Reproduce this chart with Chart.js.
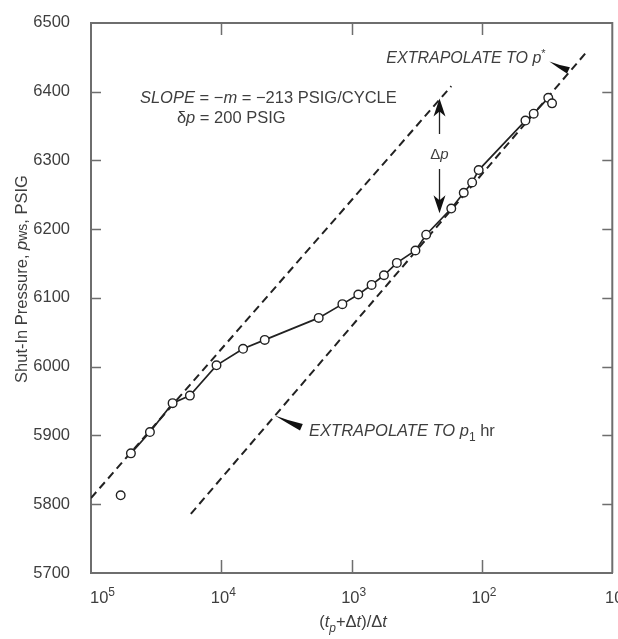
<!DOCTYPE html>
<html>
<head>
<meta charset="utf-8">
<script src="https://cdn.jsdelivr.net/npm/chart.js@4.4.0/dist/chart.umd.min.js"></script>
<style>
  html, body { margin: 0; padding: 0; background: #fff; }
  #wrap { width: 618px; height: 639px; }
</style>
</head>
<body>
<div id="wrap"><canvas id="chart" width="618" height="639"></canvas></div>
<script>
// Horner buildup plot, (tp+dt)/dt on a reversed log axis
const hornerTime = [49400, 35300, 23650, 17420, 10890, 6810, 4645, 1790, 1178, 889, 703, 565, 450, 324, 268, 172, 138, 119, 106, 46.4, 40.1, 31, 29];
const shutInPressure = [5874, 5905, 5947, 5958, 6002, 6026, 6039, 6071, 6091, 6105, 6119, 6133, 6151, 6169, 6192, 6230, 6253, 6268, 6286, 6358, 6368, 6391, 6383];

// first reading, off the curve
const outlierTime = [59200];
const outlierPressure = [5813];

// straight-line extrapolations
const earlyLineTime = [100000, 172];
const earlyLinePressure = [5809, 6408];
const lateLineTime = [17140, 15.7];
const lateLinePressure = [5786, 6458];

// delta p arrow (time, bottom, top)
const deltaPTime = 212;
const deltaPRange = [6223, 6390];

const xTicks = [100000, 10000, 1000, 100, 10];
const xTickExp = ['5', '4', '3', '2', ''];
const yMin = 5700, yMax = 6500, yStep = 100;

const FONT = '"Liberation Sans", Arial, Helvetica, sans-serif';
const TEXT = '#3e3e3e';
const INK = '#222';
const AXIS = '#6e6e6e';

const toPoints = (xs, ys) => xs.map((x, i) => ({ x: x, y: ys[i] }));

function richText(ctx, parts, x, y, align, size) {
    const small = (p) => p.sub || p.sup || p.small;
    const fontOf = (p) => `${p.i ? 'italic ' : ''}${small(p) ? Math.round(size * (p.small ? 0.85 : 0.7)) : size}px ${FONT}`;
    let w = 0;
    parts.forEach(p => { ctx.font = fontOf(p); w += ctx.measureText(p.t).width; });
    let cx = align === 'center' ? x - w / 2 : (align === 'right' ? x - w : x);
    ctx.textAlign = 'left';
    ctx.textBaseline = 'alphabetic';
    parts.forEach(p => {
        ctx.font = fontOf(p);
        const dy = p.sub ? size * 0.28 : (p.sup ? -size * 0.42 : 0);
        ctx.fillText(p.t, cx, y + dy);
        cx += ctx.measureText(p.t).width;
    });
}

function arrowHead(ctx, x, tipY, dir) {
    // dir = -1 : points up, 1 : points down
    ctx.beginPath();
    ctx.moveTo(x, tipY);
    ctx.lineTo(x + 6, tipY - dir * 18);
    ctx.lineTo(x, tipY - dir * 13);
    ctx.lineTo(x - 6, tipY - dir * 18);
    ctx.closePath();
    ctx.fill();
}

function wedge(ctx, thin, thick, width) {
    const dx = thick[0] - thin[0], dy = thick[1] - thin[1];
    const len = Math.hypot(dx, dy);
    const nx = -dy / len * width / 2, ny = dx / len * width / 2;
    ctx.beginPath();
    ctx.moveTo(thin[0], thin[1]);
    ctx.quadraticCurveTo(thin[0] + dx * 0.5 + nx * 0.6, thin[1] + dy * 0.5 + ny * 0.6, thick[0] + nx, thick[1] + ny);
    ctx.lineTo(thick[0] - nx, thick[1] - ny);
    ctx.quadraticCurveTo(thin[0] + dx * 0.5 - nx * 0.2, thin[1] + dy * 0.5 - ny * 0.2, thin[0], thin[1]);
    ctx.closePath();
    ctx.fill();
}

const hornerDecor = {
    id: 'hornerDecor',
    afterDraw: (chart) => {
        const { ctx, chartArea, scales } = chart;
        const { left, right, top, bottom } = chartArea;
        const px = v => scales.x.getPixelForValue(v);
        const py = v => scales.y.getPixelForValue(v);
        ctx.save();

        // frame top + right
        ctx.strokeStyle = AXIS;
        ctx.lineWidth = 2;
        ctx.beginPath();
        ctx.moveTo(left, top);
        ctx.lineTo(right, top);
        ctx.lineTo(right, bottom);
        ctx.stroke();

        // inward tick marks
        ctx.lineWidth = 1.5;
        ctx.beginPath();
        for (let v = yMin + yStep; v < yMax; v += yStep) {
            const y = Math.round(py(v)) + 0.5;
            ctx.moveTo(left, y); ctx.lineTo(left + 10, y);
            ctx.moveTo(right, y); ctx.lineTo(right - 10, y);
        }
        xTicks.slice(1, -1).forEach(v => {
            const x = Math.round(px(v)) + 0.5;
            ctx.moveTo(x, bottom); ctx.lineTo(x, bottom - 13);
            ctx.moveTo(x, top); ctx.lineTo(x, top + 12);
        });
        ctx.stroke();

        // x tick labels, 10^n
        ctx.fillStyle = TEXT;
        xTicks.forEach((v, i) => {
            const parts = [{ t: '10' }];
            if (xTickExp[i]) parts.push({ t: xTickExp[i], sup: true });
            if (i === 0) richText(ctx, parts, px(v) - 1, bottom + 30, 'left', 16.5);
            else richText(ctx, parts, px(v) + 2, bottom + 30, 'center', 16.5);
        });

        // axis titles
        richText(ctx, [{ t: '(' }, { t: 't', i: true }, { t: 'p', i: true, sub: true }, { t: '+Δ' }, { t: 't', i: true }, { t: ')/Δ' }, { t: 't', i: true }], 353, 627, 'center', 16.5);
        ctx.save();
        ctx.translate(27, 279);
        ctx.rotate(-Math.PI / 2);
        richText(ctx, [{ t: 'Shut-In Pressure, ' }, { t: 'p', i: true }, { t: 'ws', small: true }, { t: ', PSIG' }], 0, 0, 'center', 16.5);
        ctx.restore();

        // slope annotation
        richText(ctx, [{ t: 'SLOPE', i: true }, { t: ' = −' }, { t: 'm', i: true }, { t: ' = −213 PSIG/CYCLE' }], px(42120), py(6384), 'left', 16.5);
        richText(ctx, [{ t: 'δ' }, { t: 'p', i: true }, { t: ' = 200 PSIG' }], px(21930), py(6354), 'left', 16.5);

        // extrapolation notes
        richText(ctx, [{ t: 'EXTRAPOLATE TO ', i: true }, { t: 'p', i: true }, { t: '*', sup: true }], px(542), py(6441), 'left', 16);
        richText(ctx, [{ t: 'EXTRAPOLATE TO ', i: true }, { t: 'p', i: true }, { t: '1', sub: true }, { t: ' hr' }], px(2123), py(5899), 'left', 16.5);

        ctx.fillStyle = '#111';
        wedge(ctx, [px(30.4), py(6444)], [px(21.7), py(6431)], 7);
        wedge(ctx, [px(3890), py(5929)], [px(2430), py(5912)], 7);

        // delta p arrow
        const ax = Math.round(px(deltaPTime)) + 0.5;
        const yTop = py(deltaPRange[1]), yBot = py(deltaPRange[0]);
        const yMid = (yTop + yBot) / 2 - 2;
        ctx.strokeStyle = INK;
        ctx.lineWidth = 1.3;
        ctx.beginPath();
        ctx.moveTo(ax, yTop + 10); ctx.lineTo(ax, yMid - 20);
        ctx.moveTo(ax, yMid + 15); ctx.lineTo(ax, yBot - 10);
        ctx.stroke();
        arrowHead(ctx, ax, yTop, -1);
        arrowHead(ctx, ax, yBot, 1);
        ctx.fillStyle = TEXT;
        richText(ctx, [{ t: 'Δ' }, { t: 'p', i: true }], ax, yMid + 5, 'center', 15);

        ctx.restore();
    }
};

const ctx = document.getElementById('chart').getContext('2d');
new Chart(ctx, {
    type: 'scatter',
    data: {
        datasets: [
            {
                label: 'Measured',
                data: toPoints(hornerTime, shutInPressure),
                showLine: true,
                borderColor: INK,
                borderWidth: 1.7,
                pointRadius: 4.3,
                pointBackgroundColor: '#fff',
                pointBorderColor: INK,
                pointBorderWidth: 1.4,
                order: 1,
            },
            {
                label: 'Outlier',
                data: toPoints(outlierTime, outlierPressure),
                showLine: false,
                pointRadius: 4.3,
                pointBackgroundColor: '#fff',
                pointBorderColor: INK,
                pointBorderWidth: 1.4,
                order: 1,
            },
            {
                label: 'Early straight line',
                data: toPoints(earlyLineTime, earlyLinePressure),
                showLine: true,
                borderColor: INK,
                borderWidth: 2,
                borderDash: [8, 5],
                pointRadius: 0,
                order: 2,
            },
            {
                label: 'Late straight line',
                data: toPoints(lateLineTime, lateLinePressure),
                showLine: true,
                borderColor: INK,
                borderWidth: 2,
                borderDash: [8, 5],
                pointRadius: 0,
                order: 2,
            },
        ]
    },
    options: {
        responsive: false,
        animation: false,
        layout: { padding: { top: 15, right: 5, left: 0, bottom: 0 } },
        plugins: {
            legend: { display: false },
            tooltip: { enabled: false },
        },
        scales: {
            x: {
                type: 'logarithmic',
                reverse: true,
                min: 10,
                max: 100000,
                afterBuildTicks: (s) => { s.ticks = xTicks.map(v => ({ value: v })); },
                ticks: { display: false },
                grid: { display: false },
                border: { display: true, color: AXIS, width: 2 },
                afterFit: (s) => { s.height = 66; },
            },
            y: {
                min: yMin,
                max: yMax,
                ticks: {
                    stepSize: yStep,
                    padding: 13,
                    color: TEXT,
                    font: { family: FONT, size: 16.5 },
                    callback: (v) => String(v),
                },
                grid: { display: false },
                border: { display: true, color: AXIS, width: 2 },
                afterFit: (s) => { s.width = 91; },
            }
        }
    },
    plugins: [hornerDecor]
});
</script>
</body>
</html>
